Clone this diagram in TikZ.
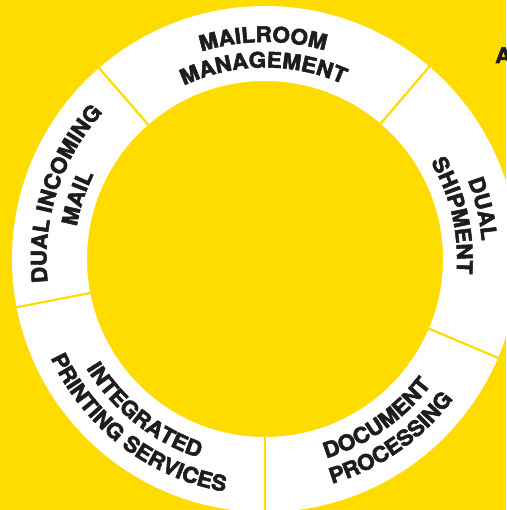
\documentclass[tikz,border=0pt]{standalone}
\usepackage{fontspec}
\newfontfamily\heros{TeX Gyre Heros}[FakeStretch=1.05, BoldFeatures={FakeBold=2.5}]
\usetikzlibrary{decorations.text}
\definecolor{brandyellow}{HTML}{FFDC00}
\definecolor{ink}{HTML}{1D1D1B}
\newcommand\lblfont{\heros\bfseries\fontsize{21.5}{24}\selectfont}
\tikzset{
  ringtext/.style={decorate, decoration={text along path, text={|\lblfont|#1}, text align=center, text color=ink}},
  divider/.style={draw=brandyellow, line width=2.2pt},
  ringfill/.style={fill=white, even odd rule},
}
\begin{document}
\begin{tikzpicture}
\useasboundingbox (-265pt,-251pt) rectangle (241pt,259pt);
\fill[brandyellow] (-265pt,-251pt) rectangle (241pt,259pt);
% ring
\path[ringfill] (0,0) circle[radius=253pt] (0,0) circle[radius=178pt];
\foreach \a in {49.5,131,191,270,337} \draw[divider] (\a:176pt) -- (\a:256pt);
% MAILROOM MANAGEMENT
\path[ringtext={MAILROOM}] (140.5:217pt) arc[start angle=140.5, end angle=40.5, radius=217pt];
\path[ringtext={MANAGEMENT}] (140.5:191.5pt) arc[start angle=140.5, end angle=40.5, radius=191.5pt];
% DUAL INCOMING MAIL
\path[ringtext={DUAL INCOMING}] (212:218.5pt) arc[start angle=212, end angle=112, radius=218.5pt];
\path[ringtext={MAIL}] (212:191pt) arc[start angle=212, end angle=112, radius=191pt];
% DUAL SHIPMENT
\path[ringtext={DUAL}] (63:217.5pt) arc[start angle=63, end angle=-37, radius=217.5pt];
\path[ringtext={SHIPMENT}] (63:192pt) arc[start angle=63, end angle=-37, radius=192pt];
% DOCUMENT PROCESSING
\path[ringtext={DOCUMENT}] (-100:208.5pt) arc[start angle=-100, end angle=-10, radius=208.5pt];
\path[ringtext={PROCESSING}] (-100:234.5pt) arc[start angle=-100, end angle=-10, radius=234.5pt];
% INTEGRATED PRINTING SERVICES
\path[ringtext={INTEGRATED}] (186.5:209.5pt) arc[start angle=186.5, end angle=276.5, radius=209.5pt];
\path[ringtext={PRINTING SERVICES}] (187.5:236pt) arc[start angle=187.5, end angle=277.5, radius=236pt];
% cut-off text at the right
\node[anchor=base west, inner sep=0pt, text=ink, font=\lblfont] (cutA) at (230pt,196pt) {A};
\end{tikzpicture}
\end{document}
